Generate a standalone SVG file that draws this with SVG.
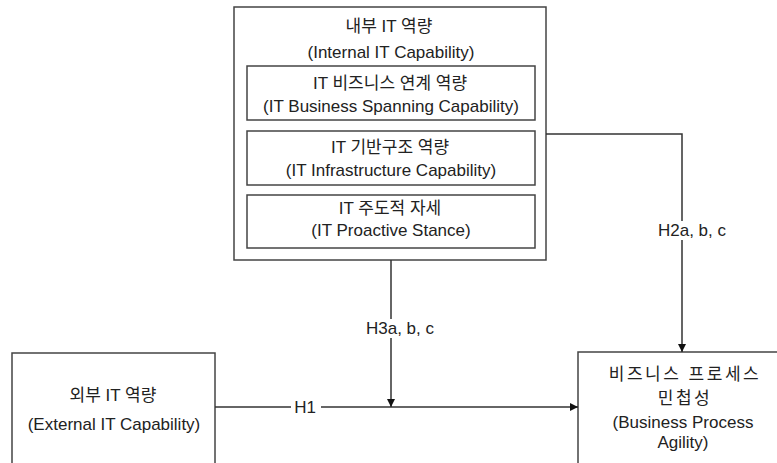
<svg xmlns="http://www.w3.org/2000/svg" width="777" height="463" viewBox="0 0 777 463">
<defs>
<style>
.box{fill:#fff;stroke:#444;stroke-width:1.5}
.ln{fill:none;stroke:#333;stroke-width:1.5}
text{font-family:"Liberation Sans","Noto Sans CJK KR",sans-serif;font-size:17px;fill:#222;text-anchor:middle}
.wide{letter-spacing:2.5px}
.lbl{fill:#fff;stroke:none}
</style>
<marker id="arr" viewBox="0 0 10 10" refX="10" refY="5" markerWidth="8" markerHeight="8" markerUnits="userSpaceOnUse" orient="auto">
<path d="M0,0 L10,5 L0,10 z" fill="#111"/>
</marker>
</defs>
<rect width="777" height="463" fill="#fff"/>
<g id="internal">
<rect class="box" x="234" y="7" width="312" height="253"/>
<text x="389" y="32">내부 IT 역량</text>
<text x="391" y="58">(Internal IT Capability)</text>
</g>
<g id="spanning">
<rect class="box" x="247" y="66" width="288" height="54"/>
<text x="390" y="89">IT 비즈니스 연계 역량</text>
<text x="391" y="112">(IT Business Spanning Capability)</text>
</g>
<g id="infra">
<rect class="box" x="247" y="131" width="288" height="54"/>
<text x="390" y="153">IT 기반구조 역량</text>
<text x="391" y="176">(IT Infrastructure Capability)</text>
</g>
<g id="proactive">
<rect class="box" x="247" y="195" width="288" height="53"/>
<text x="390" y="214">IT 주도적 자세</text>
<text x="391" y="236">(IT Proactive Stance)</text>
</g>
<g id="external">
<rect class="box" x="12" y="353" width="203" height="130"/>
<text x="113" y="401">외부 IT 역량</text>
<text x="114" y="430">(External IT Capability)</text>
</g>
<g id="agility">
<rect class="box" x="578" y="352" width="220" height="130"/>
<text class="wide" x="685" y="380">비즈니스 프로세스</text>
<text class="wide" x="685" y="404">민첩성</text>
<text x="683" y="428">(Business Process</text>
<text x="683" y="448">Agility)</text>
</g>
<g id="connectors">
<path class="ln" d="M215,407 H578" marker-end="url(#arr)"/>
<path class="ln" d="M391,260 V407" marker-end="url(#arr)"/>
<path class="ln" d="M546,134 H682 V352" marker-end="url(#arr)"/>
<rect class="lbl" x="291" y="398" width="30" height="18"/>
<text x="305" y="413">H1</text>
<rect class="lbl" x="364" y="319" width="72" height="19"/>
<text x="400" y="334">H3a, b, c</text>
<rect class="lbl" x="655" y="221" width="75" height="19"/>
<text x="692" y="236">H2a, b, c</text>
</g>
</svg>
